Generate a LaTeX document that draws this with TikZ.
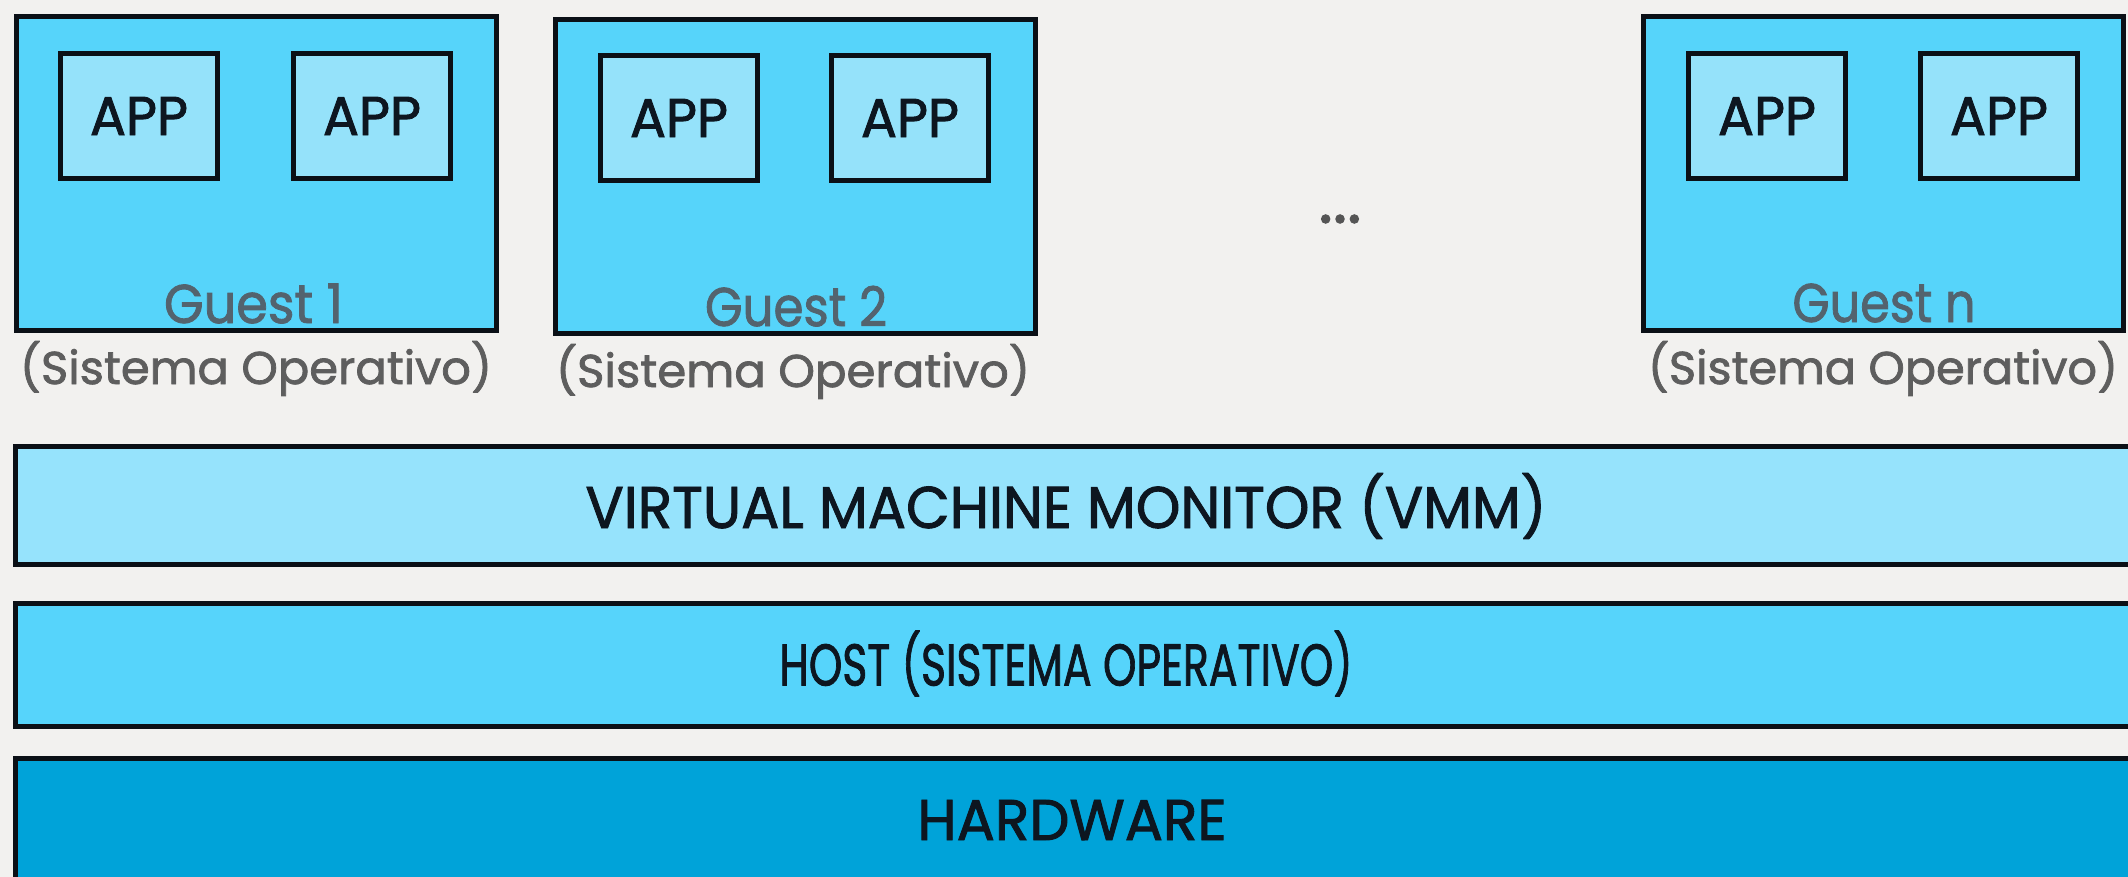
\documentclass[tikz,border=0pt]{standalone}
\usepackage{fontspec}
\setmainfont{Poppins}[FakeBold=1.6]
\usepackage{graphicx}
\definecolor{bg}{HTML}{F2F1EF}
\definecolor{guestfill}{HTML}{56D4FA}
\definecolor{appfill}{HTML}{95E2FA}
\definecolor{vmmfill}{HTML}{96E3FC}
\definecolor{hostfill}{HTML}{56D4FB}
\definecolor{hwfill}{HTML}{00A3D9}
\definecolor{edge}{HTML}{0B1016}
\definecolor{ink}{HTML}{0D1620}
\definecolor{guestink}{HTML}{53636E}
\definecolor{soink}{HTML}{5E5E5E}
\definecolor{dotink}{HTML}{555555}
\newcommand{\fitt}[3]{\resizebox{#1pt}{#2pt}{\smash{#3}\vphantom{H}}}
\begin{document}
\begin{tikzpicture}[x=1pt,y=-1pt,
  guestbox/.style={draw=edge, line width=5pt, fill=guestfill, inner sep=0pt, outer sep=0pt, minimum width=480pt, minimum height=314pt},
  appbox/.style={draw=edge, line width=5pt, fill=appfill, inner sep=0pt, outer sep=0pt, minimum width=157pt, minimum height=125pt, text=ink},
  bar/.style={draw=edge, line width=5pt, inner sep=0pt, outer sep=0pt, minimum width=2124.5pt},
  lbl/.style={inner sep=0pt, outer sep=0pt, anchor=base}]
\useasboundingbox (0,0) rectangle (2128,877);
\clip (0,0) rectangle (2128,877);
\fill[bg] (0,0) rectangle (2128,877);

% guests
\node[guestbox] (g1) at (256.5,173.5) {};
\node[guestbox] (g2) at (795.5,176.5) {};
\node[guestbox] (gn) at (1883.5,173.5) {};

\node[appbox] (g1a1) at (139,116) {\fitt{98}{38}{APP}};
\node[appbox] (g1a2) at (372,116) {\fitt{98}{38}{APP}};
\node[appbox] (g2a1) at (679,118) {\fitt{98}{38}{APP}};
\node[appbox] (g2a2) at (910,118) {\fitt{98}{38}{APP}};
\node[appbox] (gna1) at (1767,116) {\fitt{98}{38}{APP}};
\node[appbox] (gna2) at (1999,116) {\fitt{98}{38}{APP}};

\node[lbl, text=guestink] (g1l) at (253.5,323) {\fitt{179}{38}{Guest 1}};
\node[lbl, text=guestink] (g2l) at (796,326) {\fitt{182}{38}{Guest 2}};
\node[lbl, text=guestink] (gnl) at (1884,322) {\fitt{183}{38}{Guest n}};

\node[lbl, text=soink] (g1s) at (256,384) {\fitt{472}{32}{(Sistema Operativo)}};
\node[lbl, text=soink] (g2s) at (793,387) {\fitt{474}{32}{(Sistema Operativo)}};
\node[lbl, text=soink] (gns) at (1883,384) {\fitt{470}{32}{(Sistema Operativo)}};

\node[inner sep=0pt, text=dotink] (dots) at (1340,219) {\resizebox{43pt}{8pt}{...}};

% layers
\node[bar, fill=vmmfill, minimum height=118pt] (vmm) at (1077.75,505.5) {};
\node[bar, fill=hostfill, minimum height=123pt] (host) at (1077.75,665) {};
\node[bar, fill=hwfill, minimum height=160pt] (hw) at (1077.75,838.5) {};

\node[lbl, text=ink] (vmmt) at (1066,528) {\fitt{961}{41}{VIRTUAL MACHINE MONITOR (VMM)}};
\node[lbl, text=ink] (hostt) at (1066,685.5) {\fitt{573}{41}{HOST (SISTEMA OPERATIVO)}};
\node[lbl, text=ink] (hwt) at (1072,840) {\fitt{309}{40}{HARDWARE}};
\end{tikzpicture}
\end{document}
